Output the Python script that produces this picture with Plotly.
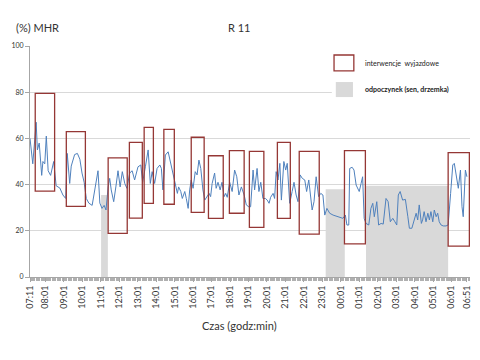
import plotly.graph_objects as go

# minutes elapsed since 07:11
t_min = [0, 9, 20, 24, 30, 38, 42, 48, 53, 59, 67, 77, 85, 97, 107, 116, 121, 129, 134, 145,
         154, 162, 169, 176, 183, 191, 202, 208, 215, 221, 227, 234, 241, 247, 254, 259, 264, 272, 279, 286,
         293, 300, 308, 315, 324, 332, 340, 351, 360, 366, 375, 384, 391, 397, 405, 413, 422, 427,
         432, 440, 449, 456, 465, 472, 479, 483, 490, 495, 503, 508, 514, 519, 524, 530, 537, 543,
         549, 555, 562, 568, 575, 582, 587, 592, 600, 605, 611, 618, 624, 631, 636, 641, 649, 657,
         665, 672, 679, 687, 696, 703, 711, 717, 725, 730, 738, 744, 750, 757, 765, 771, 777, 782,
         790, 795, 800, 806, 812, 817, 825, 831, 836, 844, 852, 858, 865, 871, 878, 885, 893, 899,
         906, 912, 917, 923, 930, 938, 945, 952, 958, 965, 974, 985, 995, 1007, 1017, 1025, 1030, 1036,
         1039, 1047, 1053, 1060, 1065, 1070, 1076, 1081, 1086, 1092, 1101, 1108, 1114, 1119, 1127, 1133,
         1141, 1148, 1157, 1164, 1171, 1179, 1186, 1192, 1197, 1203, 1211, 1220, 1228, 1233, 1241, 1249,
         1255, 1260, 1265, 1272, 1276, 1281, 1287, 1293, 1298, 1303, 1309, 1314, 1320, 1325, 1330, 1336,
         1343, 1352, 1359, 1367, 1374, 1379, 1385, 1392, 1399, 1404, 1408, 1415, 1420]
mhr = [60, 49, 67, 55, 58, 44, 50, 49, 61, 46, 44, 50, 39.5, 38.5, 35.5, 34, 53.5, 40.5, 48, 53,
       53.5, 51, 45, 41, 34, 32, 31, 36, 42, 46, 32, 29.7, 31, 29, 39, 42.7, 37.7, 32.6, 39, 46,
       39, 45.6, 40.5, 38.4, 45, 46, 42, 47.7, 48.5, 41, 47.7, 55, 40.5, 45.6, 40.5, 47, 48.5, 47,
       37.7, 52.8, 54.2, 50, 43.4, 39.8, 36.2, 39, 37, 34, 37, 34, 29.7, 37.7, 42, 38.4, 45.6, 44.2,
       50.6, 47, 37.7, 33.3, 34.8, 36.2, 34.8, 40.5, 45, 38.4, 41, 37.7, 41, 34.8, 36.2, 34.5, 41, 37,
       46.3, 43.4, 35.5, 39, 35.5, 31.2, 30.4, 30.4, 46.3, 37.7, 47, 37, 41, 34, 34, 33.3, 31.9, 34.5,
       36.2, 34, 45.6, 42, 49.2, 33.3, 50, 46.3, 49.2, 31.9, 37, 41, 35.5, 32.6, 44.2, 42.7, 42, 37,
       42, 33.3, 29, 32.6, 43.4, 34.8, 36.2, 35.5, 26.8, 29.7, 27.6, 26.8, 26.4, 26.1, 25.4, 26.8, 22.5, 22.5,
       47, 47.5, 46.3, 39.8, 38.4, 37, 40.5, 43.4, 25.4, 23.2, 22.5, 29.7, 31.9, 26.1, 32.6, 22.5,
       23.2, 22.9, 34, 32.6, 23.9, 25.4, 23.9, 22.5, 35.5, 37, 33.3, 33.6, 26.1, 21.1, 21.1, 24.7,
       27.6, 24.7, 31.2, 23.2, 24.7, 28.3, 23.9, 27.6, 24.7, 28.3, 23.9, 29, 26.1, 27.6, 23.9, 22.5,
       22.1, 22.1, 22.5, 36.2, 48.5, 49.2, 43.4, 38.4, 46.3, 30.4, 26.1, 46.3, 43.4]

# interventions (interwencje wyjazdowe): start/end minute, low/high %MHR
int_start = [17, 118, 254, 323, 371, 435, 524, 580, 648, 713, 804, 875, 1022, 1359]
int_end = [80, 180, 316, 365, 401, 469, 566, 628, 696, 760, 846, 940, 1090, 1428]
int_low = [37.2, 30.6, 18.9, 25.5, 31.9, 31.5, 28, 25.4, 27.6, 21.5, 25.4, 18.6, 14.3, 13.4]
int_high = [79.5, 62.9, 51.6, 58.3, 64.8, 63.9, 60.5, 52.5, 54.7, 54.4, 58.3, 54.4, 54.7, 53.8]

# rest (odpoczynek): start/end minute, top %MHR
rest_start = [231, 961, 1092]
rest_end = [253, 1023, 1359]
rest_top = [35.5, 38, 39.5]

tick_vals = [0] + [50 + 60 * i for i in range(23)] + [1420]
tick_text = ["07:11", "08:01", "09:01", "10:01", "11:01", "12:01", "13:01", "14:01", "15:01",
             "16:01", "17:01", "18:01", "19:01", "20:01", "21:01", "22:01", "23:01", "00:01",
             "01:01", "02:01", "03:01", "04:01", "05:01", "06:01", "06:51"]

FONT = "Lato, Carlito, Liberation Sans, sans-serif"
RED = "#953735"
GRAY = "#d9d9d9"

fig = go.Figure()
fig.add_trace(go.Scatter(x=t_min, y=mhr, mode="lines",
                         line=dict(color="#4f81bd", width=1), showlegend=False))

shapes = []
for s, e, top in zip(rest_start, rest_end, rest_top):
    shapes.append(dict(type="rect", xref="x", yref="y", x0=s, x1=e, y0=0, y1=top,
                       fillcolor=GRAY, line=dict(width=0), layer="below"))
for s, e, lo, hi in zip(int_start, int_end, int_low, int_high):
    shapes.append(dict(type="rect", xref="x", yref="y", x0=s, x1=e, y0=lo, y1=hi,
                       fillcolor="rgba(0,0,0,0)", line=dict(color=RED, width=1.3), layer="above"))
# legend
shapes.append(dict(type="rect", xref="paper", yref="paper", x0=0.686, x1=1.0, y0=0.749, y1=0.975,
                   fillcolor="white", line=dict(width=0), layer="above"))
shapes.append(dict(type="rect", xref="paper", yref="paper", x0=0.691, x1=0.736, y0=0.892, y1=0.961,
                   fillcolor="white", line=dict(color=RED, width=1.3), layer="above"))
shapes.append(dict(type="rect", xref="paper", yref="paper", x0=0.695, x1=0.734, y0=0.779, y1=0.844,
                   fillcolor=GRAY, line=dict(width=0), layer="above"))

annotations = [
    dict(text="interwencje  wyjazdowe", xref="paper", yref="paper", x=0.757, y=0.926,
         xanchor="left", yanchor="middle", showarrow=False, font=dict(size=7, color="#222", family=FONT)),
    dict(text="<b>odpoczynek (sen, drzemka)</b>", xref="paper", yref="paper", x=0.757, y=0.81,
         xanchor="left", yanchor="middle", showarrow=False, font=dict(size=7, color="#222", family=FONT)),
    dict(text="(%) MHR", xref="paper", yref="paper", x=-0.036, y=1.082, xanchor="left",
         yanchor="middle", showarrow=False, font=dict(size=11, color="#333", family=FONT)),
    dict(text="R 11", xref="paper", yref="paper", x=0.475, y=1.082, xanchor="center",
         yanchor="middle", showarrow=False, font=dict(size=11, color="#333", family=FONT)),
    dict(text="Czas (godz:min)", xref="paper", yref="paper", x=0.477, y=-0.212, xanchor="center",
         yanchor="middle", showarrow=False, font=dict(size=11, color="#333", family=FONT)),
]

# the page body keeps an 8px default margin, so the figure is 8px smaller and offset
fig.update_layout(
    width=472, height=352,
    margin=dict(l=22, r=10, t=38, b=83, autoexpand=False),
    paper_bgcolor="white", plot_bgcolor="white",
    shapes=shapes, annotations=annotations,
    font=dict(family=FONT, color="#333"),
    xaxis=dict(range=[0, 1430], tickmode="array", tickvals=tick_vals, ticktext=tick_text,
               tickangle=-90, tickfont=dict(size=9, color="#333"), showgrid=False, zeroline=False,
               showline=True, linecolor="#a6a6a6", linewidth=1, automargin=False,
               ticks="outside", ticklen=4, tickcolor="#a6a6a6",
               minor=dict(ticks="outside", dtick=4, tick0=0, ticklen=3, tickcolor="#b0b0b0", showgrid=False)),
    yaxis=dict(range=[0, 100], tickvals=[0, 20, 40, 60, 80, 100], tickfont=dict(size=7, color="#333"),
               showgrid=True, gridcolor="#d9d9d9", gridwidth=1, zeroline=False,
               showline=True, linecolor="#a6a6a6", linewidth=1, automargin=False,
               ticks="outside", ticklen=4, tickcolor="#a6a6a6"),
)

fig.write_html("out.html")
